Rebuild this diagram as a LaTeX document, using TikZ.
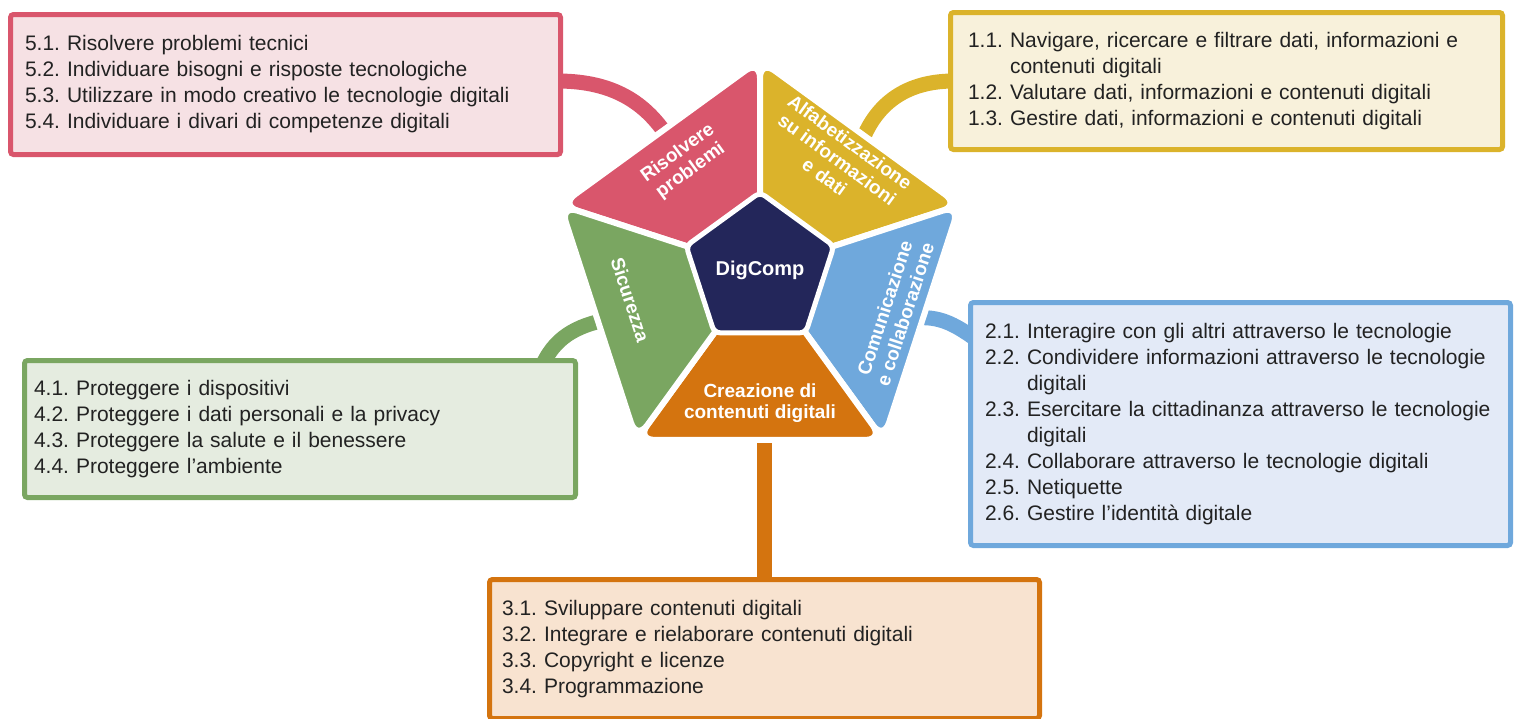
\documentclass[tikz,border=0pt]{standalone}
\usepackage{fontspec}
\setmainfont{Liberation Sans}
\usetikzlibrary{shapes.geometric, positioning, calc, backgrounds}
\definecolor{probred}{HTML}{D9566C}
\definecolor{probfill}{HTML}{F6E1E4}
\definecolor{infoyellow}{HTML}{DBB32B}
\definecolor{infofill}{HTML}{F8F1DB}
\definecolor{commblue}{HTML}{6FA8DC}
\definecolor{commfill}{HTML}{E3EAF7}
\definecolor{safegreen}{HTML}{7AA661}
\definecolor{safefill}{HTML}{E5ECE0}
\definecolor{createorange}{HTML}{D4740F}
\definecolor{createfill}{HTML}{F8E3D0}
\definecolor{corenavy}{HTML}{23265A}
\definecolor{itemtext}{HTML}{222222}
\newcommand\itemrows[1]{\raisebox{-2.5pt}{\begin{tabular}{@{}l@{\ }l@{}}#1\end{tabular}}}

\begin{document}
\begin{tikzpicture}[
    x=1pt, y=1pt,
    segment/.style={draw=white, line width=6pt, rounded corners=18pt},
    seglabel/.style={text=white, align=center, font=\fontsize{19}{21.5}\selectfont\bfseries, inner sep=0pt},
    itembox/.style={draw, line width=5pt, rounded corners=3pt, anchor=north west, align=left, text=itemtext, font=\fontsize{21}{26}\selectfont},
    link/.style={line width=15pt}
  ]
    \useasboundingbox (0,0) rectangle (1515,-718);

    % the five areas round the centre
    \begin{scope}[shift={(760,-270)}]
      \filldraw[segment, fill=probred] (0,0) -- (90:210) -- (162:210) -- cycle;
      \filldraw[segment, fill=infoyellow] (0,0) -- (18:210) -- (90:210) -- cycle;
      \filldraw[segment, fill=commblue] (0,0) -- (-54:210) -- (18:210) -- cycle;
      \filldraw[segment, fill=createorange] (0,0) -- (234:210) -- (306:210) -- cycle;
      \filldraw[segment, fill=safegreen] (0,0) -- (162:210) -- (234:210) -- cycle;

      \node[seglabel, rotate=36] (problabel) at (125:132) {Risolvere\\problemi};
      \node[seglabel, rotate=-36] (infolabel) at (55:135) {Alfabetizzazione\\su informazioni\\e dati};
      \node[seglabel, rotate=72] (commlabel) at (-17:141) {Comunicazione\\e collaborazione};
      \node[seglabel] (createlabel) at (-90:133) {Creazione di\\contenuti digitali};
      \node[seglabel, rotate=-72] (safelabel) at (193:133) {Sicurezza};

      \node[regular polygon, regular polygon sides=5, minimum size=146pt, inner sep=0pt,
            fill=corenavy, draw=white, line width=5pt, rounded corners=6pt,
            text=white, font=\fontsize{20}{22}\selectfont\bfseries] (core) at (0,0) {DigComp};

      \coordinate (probend) at (-91,131);
      \coordinate (infoend) at (105,136);
      \coordinate (commend) at (155,-48);
      \coordinate (createend) at (0,-165);
      \coordinate (safeend) at (-145,-48);
    \end{scope}

    % competence boxes
    \node[itembox, draw=probred, fill=probfill, minimum width=550pt, minimum height=140pt, inner xsep=14.5pt, text width=521pt] (probbox) at (8,-12) {\itemrows{
        5.1. & Risolvere problemi tecnici\\
        5.2. & Individuare bisogni e risposte tecnologiche\\
        5.3. & Utilizzare in modo creativo le tecnologie digitali\\
        5.4. & Individuare i divari di competenze digitali}};
    \node[itembox, draw=infoyellow, fill=infofill, minimum width=552pt, minimum height=137pt, inner xsep=17.5pt, text width=517pt] (infobox) at (948,-10) {\itemrows{
        1.1. & Navigare, ricercare e filtrare dati, informazioni e\\
             & contenuti digitali\\
        1.2. & Valutare dati, informazioni e contenuti digitali\\
        1.3. & Gestire dati, informazioni e contenuti digitali}};
    \node[itembox, draw=commblue, fill=commfill, minimum width=540pt, minimum height=243pt, inner xsep=14.5pt, text width=511pt] (commbox) at (968,-300) {\itemrows{
        2.1. & Interagire con gli altri attraverso le tecnologie\\
        2.2. & Condividere informazioni attraverso le tecnologie\\
             & digitali\\
        2.3. & Esercitare la cittadinanza attraverso le tecnologie\\
             & digitali\\
        2.4. & Collaborare attraverso le tecnologie digitali\\
        2.5. & Netiquette\\
        2.6. & Gestire l'identità digitale}};
    \node[itembox, draw=safegreen, fill=safefill, minimum width=551pt, minimum height=137pt, inner xsep=9.5pt, text width=532pt] (safebox) at (22,-358) {\itemrows{
        4.1. & Proteggere i dispositivi\\
        4.2. & Proteggere i dati personali e la privacy\\
        4.3. & Proteggere la salute e il benessere\\
        4.4. & Proteggere l'ambiente}};
    \node[itembox, draw=createorange, fill=createfill, minimum width=550pt, minimum height=139pt, inner xsep=12.5pt, text width=525pt] (createbox) at (487,-577) {\itemrows{
        3.1. & Sviluppare contenuti digitali\\
        3.2. & Integrare e rielaborare contenuti digitali\\
        3.3. & Copyright e licenze\\
        3.4. & Programmazione}};

    % links behind boxes and areas
    \begin{scope}[on background layer]
      \draw[link, probred] ($(probbox.north east)+(-6,-69)$) to[out=0, in=122] (probend);
      \draw[link, infoyellow] ($(infobox.north west)+(6,-71)$) to[out=180, in=65] (infoend);
      \draw[link, commblue] (commend) to[out=5, in=145] ($(commbox.north west)+(6,-38)$);
      \draw[link, safegreen] ($(safebox.north west)+(521,-6)$) to[out=65, in=190] (safeend);
      \draw[link, createorange] (createend) -- (createbox.north |- createend) -- ($(createbox.north)+(0,-6)$);
    \end{scope}
  \end{tikzpicture}
\end{document}
